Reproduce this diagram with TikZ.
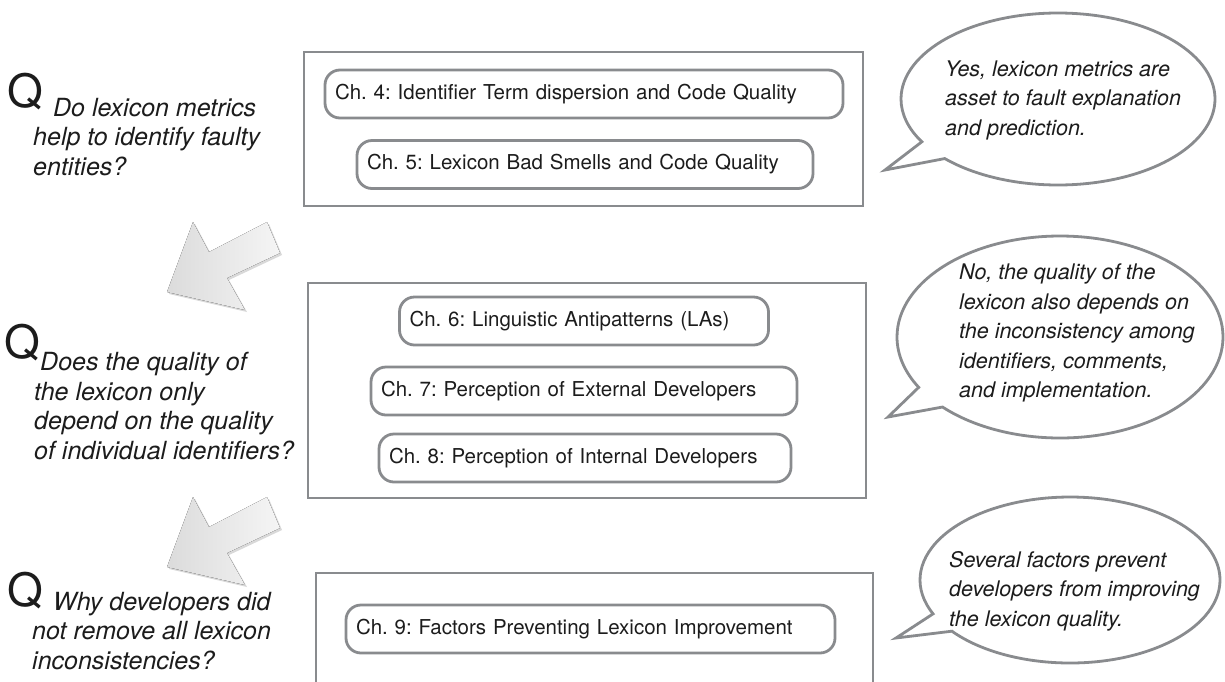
\documentclass[tikz,border=0pt]{standalone}
\usepackage{fontspec}
\setmainfont{TeX Gyre Heros}
\usepackage{tikz}
\usetikzlibrary{positioning,shapes.callouts,shadows}

\definecolor{framegray}{RGB}{137,139,142}
\definecolor{inkgray}{RGB}{28,28,28}

\tikzset{
  partbox/.style={draw=framegray, line width=2.8pt, inner sep=0pt},
  chapbox/.style={draw=framegray, line width=2.8pt, rounded corners=15pt,
    minimum height=48pt, inner xsep=10pt, inner ysep=0pt, align=left,
    text=inkgray, font=\fontsize{20.5}{25}\selectfont},
  bubble/.style={ellipse callout, draw=framegray, line width=2.8pt,
    fill=white, callout pointer arc=14},
  bubtext/.style={align=left, inner sep=0pt, text=inkgray,
    font=\fontsize{21.5}{29.5}\selectfont\itshape},
  qmark/.style={inner sep=0pt, text=inkgray, font=\fontsize{46}{46}\selectfont},
  qtext/.style={align=left, inner sep=0pt, text=inkgray,
    font=\fontsize{25}{29.5}\selectfont\itshape},
  bigarrow/.style={draw=none, left color=gray!28, right color=gray!8,
    drop shadow={shadow xshift=2pt, shadow yshift=-2pt, opacity=0.3}}
}

\begin{document}
\frenchspacing
\begin{tikzpicture}[x=1pt,y=-1pt]
\useasboundingbox (0,0) rectangle (1225,681);
\clip (0,0) rectangle (1225,681);

% Part frames
\node[partbox, minimum width=559pt, minimum height=154pt] (part1) at (583.5,129) {};
\node[partbox, minimum width=558pt, minimum height=215pt] (part2) at (587,390.5) {};
\node[partbox, minimum width=557pt, minimum height=150pt] (part3) at (594.5,648) {};

% Chapters
\node[chapbox, text width=498pt] (ch4) at (584,94) {Ch. 4: Identifier Term dispersion and Code Quality};
\node[chapbox, text width=436pt] (ch5) at (585,164.5) {Ch. 5: Lexicon Bad Smells and Code Quality};
\node[chapbox, text width=349pt] (ch6) at (584,321) {Ch. 6: Linguistic Antipatterns (LAs)};
\node[chapbox, text width=406pt] (ch7) at (584,391) {Ch. 7: Perception of External Developers};
\node[chapbox, text width=392pt] (ch8) at (585,458) {Ch. 8: Perception of Internal Developers};
\node[chapbox, text width=469pt] (ch9) at (590.5,629) {Ch. 9: Factors Preventing Lexicon Improvement};

% Questions
\node[qmark, anchor=base west] (q1) at (7,107) {Q};
\node[qtext, anchor=north west] (q1text) at (33,98) {\hspace*{20pt}Do lexicon metrics\\help to identify faulty\\entities?};
\node[qmark, anchor=base west] (q2) at (4,358) {Q};
\node[qtext, anchor=north west] (q2text) at (34,352) {\hspace*{6pt}Does the quality of\\the lexicon only\\depend on the quality\\of individual identifiers?};
\node[qmark, anchor=base west] (q3) at (7,606) {Q};
\node[qtext, anchor=north west] (q3text) at (32,592) {\hspace*{21pt}Why developers did\\not remove all lexicon\\inconsistencies?};

% Flow arrows
\filldraw[bigarrow] (167,292) -- (193,222) -- (209,252) -- (267,222) -- (280,253) -- (227,278) -- (245,310) -- cycle;
\filldraw[bigarrow, shift={(0,275)}] (167,292) -- (193,222) -- (209,252) -- (267,222) -- (280,253) -- (227,278) -- (245,310) -- cycle;

% Answers
\coordinate (tip1) at (885,170);
\coordinate (tip2) at (888,417);
\coordinate (tip3) at (896,638);
\node[bubble, minimum width=314pt, minimum height=172pt, callout absolute pointer={(tip1)}] (bub1) at (1058,99) {};
\node[bubble, minimum width=326pt, minimum height=202pt, callout absolute pointer={(tip2)}] (bub2) at (1060,337) {};
\node[bubble, minimum width=300pt, minimum height=166pt, callout absolute pointer={(tip3)}] (bub3) at (1070,580) {};

\node[bubtext, anchor=west] (ans1) at (945,100) {Yes, lexicon metrics are\\asset to fault explanation\\and prediction.};
\node[bubtext, anchor=west] (ans2) at (959,333) {No, the quality of the\\lexicon also depends on\\the inconsistency among\\identifiers, comments,\\and implementation.};
\node[bubtext, anchor=west] (ans3) at (949,591) {Several factors prevent\\developers from improving\\the lexicon quality.};

\end{tikzpicture}
\end{document}
